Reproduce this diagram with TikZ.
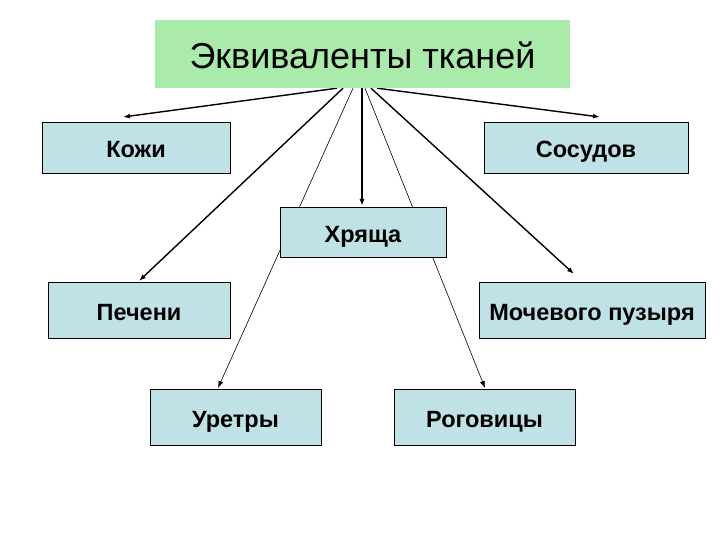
\documentclass[tikz,border=0pt]{standalone}
\usepackage{fontspec}
\setmainfont{Liberation Sans}
\usepackage{tikz}
\usetikzlibrary{
  arrows.meta,
  positioning,
  backgrounds
}
\definecolor{titlegreen}{RGB}{170,234,170}
\definecolor{boxblue}{RGB}{192,225,229}

\begin{document}
\begin{tikzpicture}[x=1pt, y=-1pt,
  tissue/.style={draw=black, line width=0.9pt, fill=boxblue, inner sep=0pt, outer sep=0pt,
    font=\bfseries\fontsize{23.5}{28}\selectfont, text height=22pt, text depth=2pt,
    minimum height=56pt},
  link/.style={line width=1.4pt, -{Latex[length=7pt,width=5pt]}},
  thinlink/.style={line width=0.6pt, -{Latex[length=7pt,width=5pt]}}]
  \useasboundingbox (0,0) rectangle (720,540);
  % heading
  \node[fill=titlegreen, inner sep=0pt, minimum width=415pt, minimum height=68pt,
    text height=35pt, text depth=6pt,
    font=\fontsize{36}{42}\selectfont] (title) at (362.5,54) {Эквиваленты тканей};
  % tissues
  \node[tissue, minimum width=188pt, minimum height=51pt] (kozhi) at (136,147.5) {Кожи};
  \node[tissue, minimum width=204pt, minimum height=51pt] (sosudov) at (586,147.5) {Сосудов};
  \node[tissue, minimum width=166pt, minimum height=50pt] (khryashcha) at (363,232) {Хряща};
  \node[tissue, minimum width=182pt] (pecheni) at (139,310) {Печени};
  \node[tissue, minimum width=226pt] (mochevogo) at (592,310) {Мочевого пузыря};
  \node[tissue, minimum width=171pt] (uretry) at (235.5,417) {Уретры};
  \node[tissue, minimum width=181pt] (rogovitsy) at (484.5,417) {Роговицы};
  % arrows from the heading, behind the boxes
  \begin{scope}[on background layer]
    \draw[link] ([xshift=-25.5pt]title.south) -- ([xshift=-13pt,yshift=5pt]kozhi.north);
    \draw[link] ([xshift=-19.5pt]title.south) -- ([yshift=1pt]pecheni.north);
    \draw[thinlink] ([xshift=-9.5pt]title.south) -- ([xshift=-17.5pt,yshift=1pt]uretry.north);
    \draw[link] ([xshift=-0.5pt]title.south) -- ([xshift=-1pt,yshift=1pt]khryashcha.north);
    \draw[thinlink] ([xshift=2.5pt]title.south) -- ([xshift=0.5pt,yshift=1pt]rogovitsy.north);
    \draw[link] ([xshift=8.5pt]title.south) -- ([xshift=-18pt,yshift=8pt]mochevogo.north);
    \draw[link] ([xshift=14.5pt]title.south) -- ([xshift=14pt,yshift=5pt]sosudov.north);
  \end{scope}
\end{tikzpicture}
\end{document}
